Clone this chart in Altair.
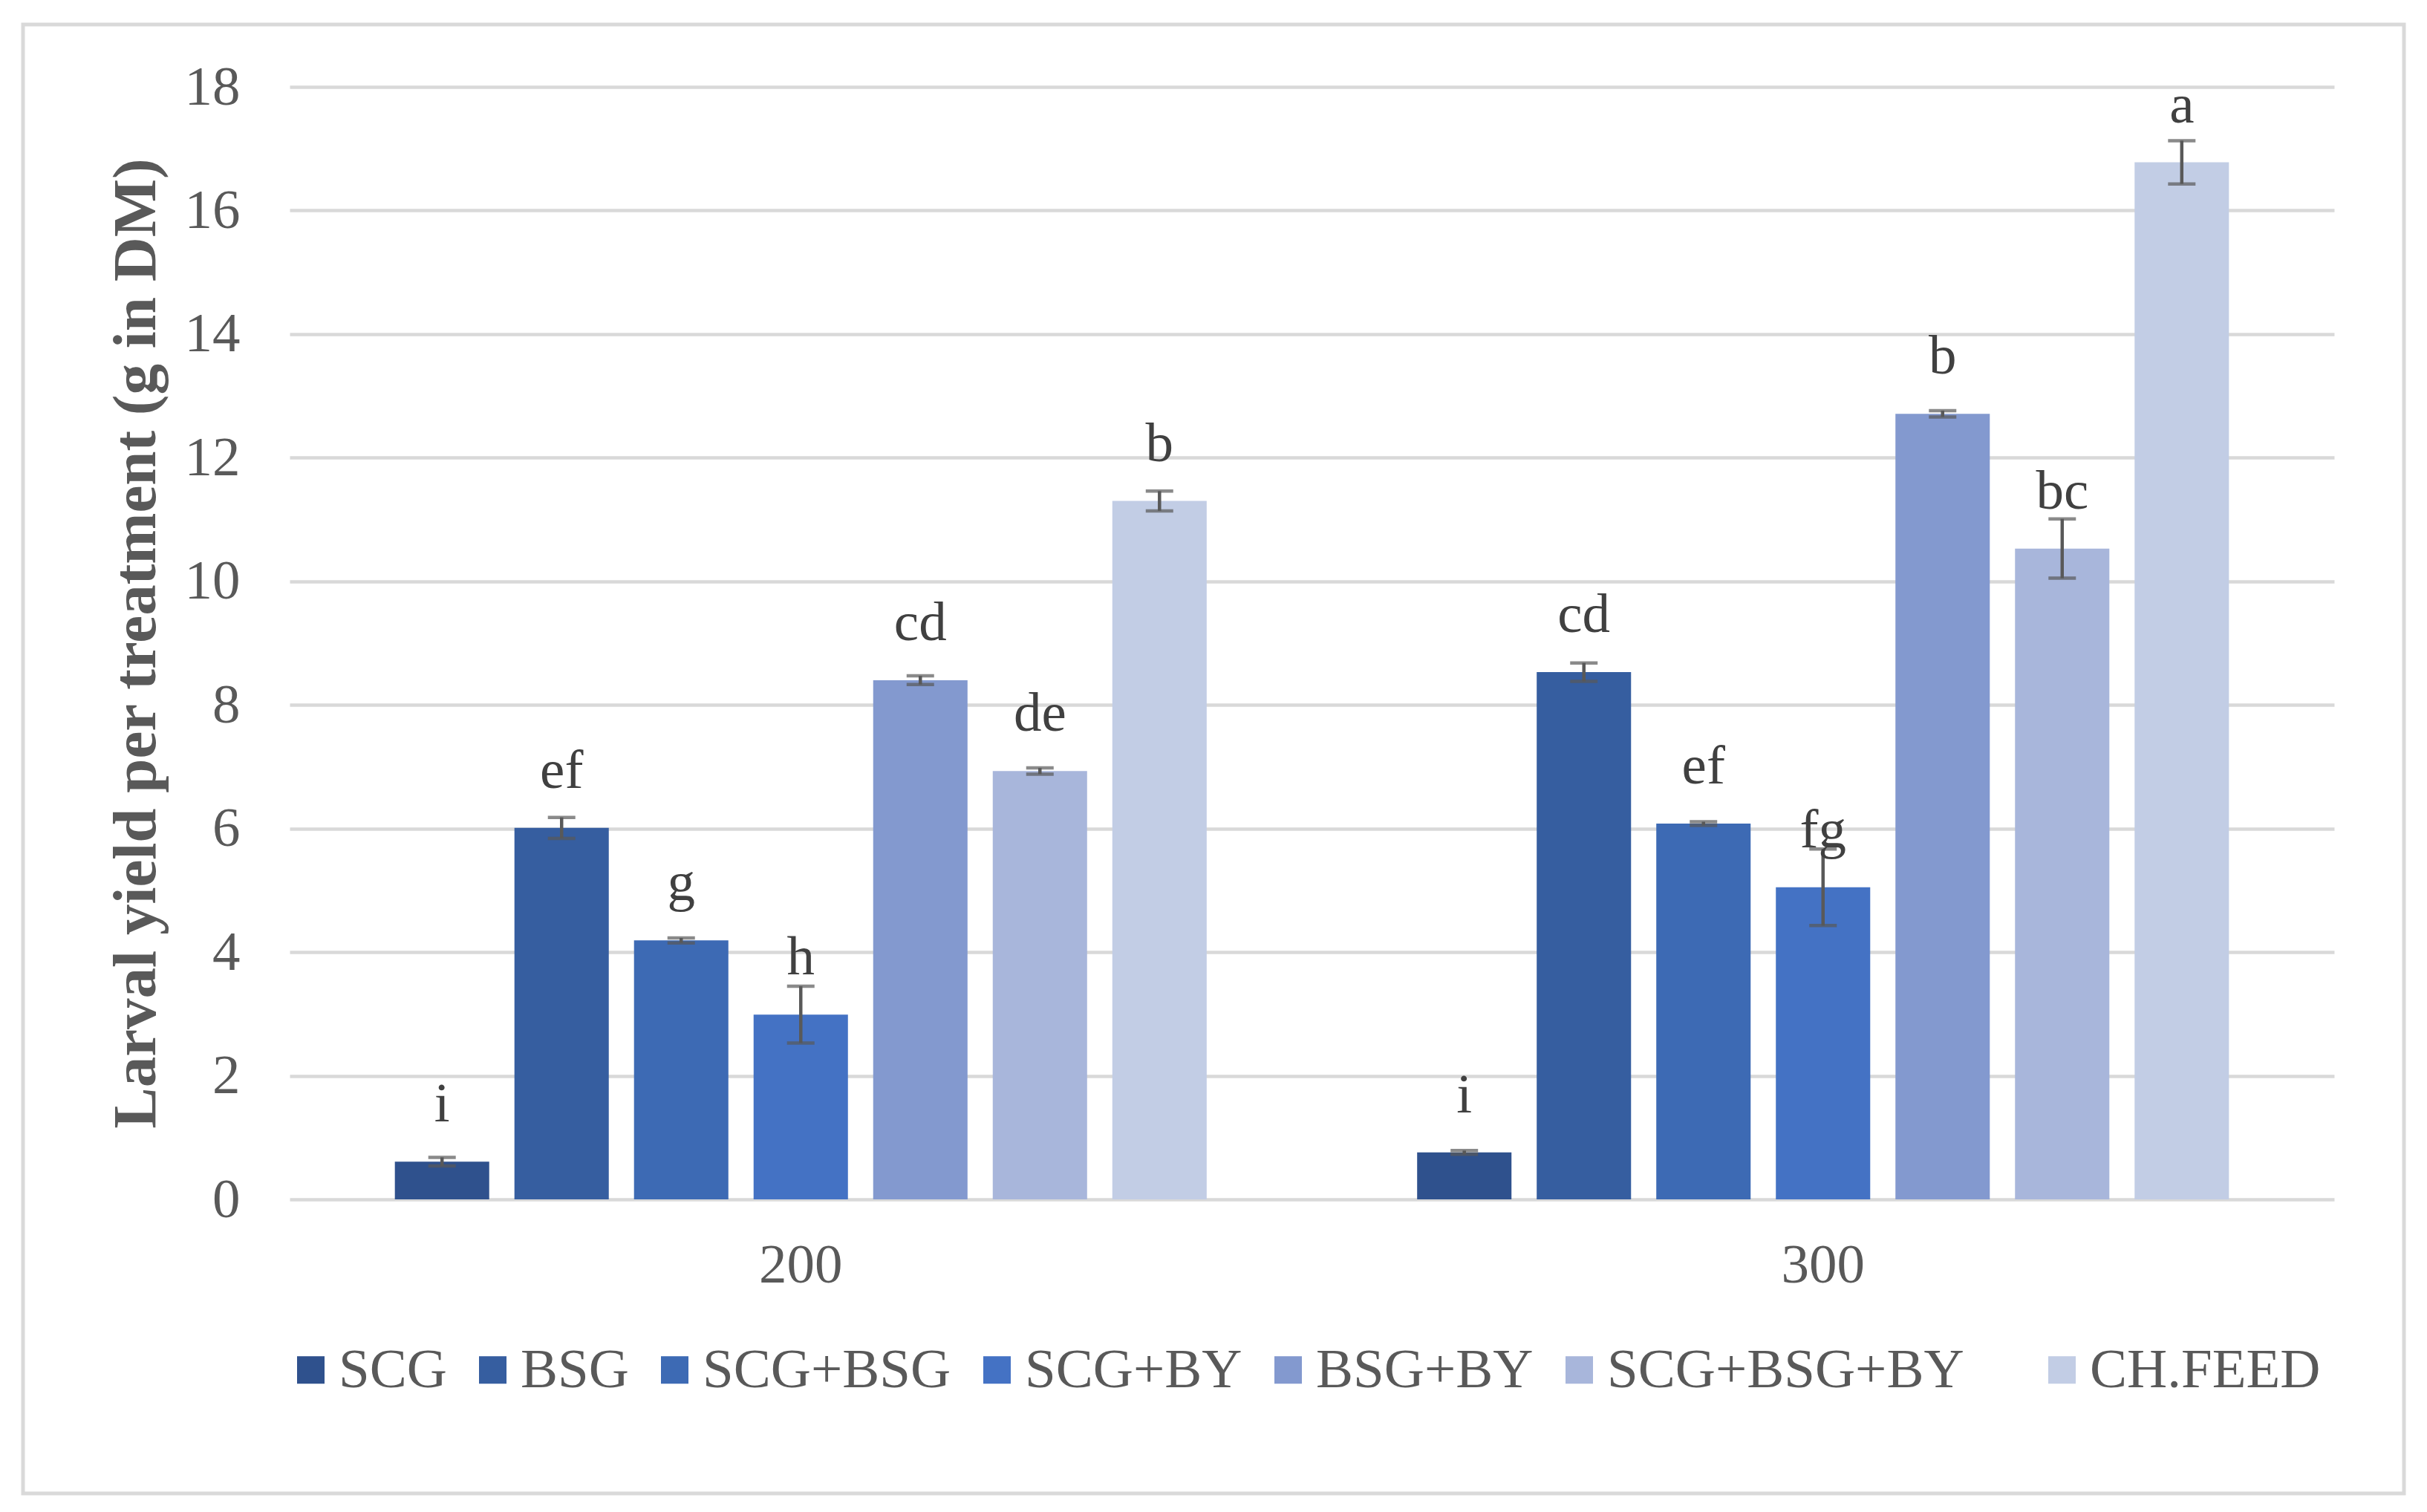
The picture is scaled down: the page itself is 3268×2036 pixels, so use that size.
import altair as alt
import pandas as pd

densities = ["200", "300"]
treatments = ["SCG", "BSG", "SCG+BSG", "SCG+BY", "BSG+BY", "SCG+BSG+BY", "CH.FEED"]
colors = ["#2F518D", "#365EA0", "#3D6AB4", "#4472C4", "#8399CF", "#A8B6DB", "#C2CDE5"]

mean_200 = [0.61, 6.01, 4.19, 2.99, 8.40, 6.93, 11.30]
mean_300 = [0.76, 8.53, 6.08, 5.05, 12.71, 10.53, 16.78]
err_200 = [0.07, 0.17, 0.04, 0.46, 0.07, 0.05, 0.16]
err_300 = [0.03, 0.15, 0.03, 0.62, 0.05, 0.48, 0.35]
letters_200 = ["i", "ef", "g", "h", "cd", "de", "b"]
letters_300 = ["i", "cd", "ef", "fg", "b", "bc", "a"]
y_ticks = [0, 2, 4, 6, 8, 10, 12, 14, 16, 18]

rows = []
for d, means, errs, lets in [("200", mean_200, err_200, letters_200),
                             ("300", mean_300, err_300, letters_300)]:
    for t, m, e, l in zip(treatments, means, errs, lets):
        rows.append({"density": d, "treatment": t, "mean": m,
                     "lo": m - e, "hi": m + e, "letter": l})
df = pd.DataFrame(rows)

FONT = "Liberation Serif"
W, H = 2753, 1498

x_enc = alt.X("density:N", sort=densities,
              scale=alt.Scale(paddingInner=0, paddingOuter=0),
              axis=alt.Axis(title=None, labelAngle=0, domain=False, ticks=False,
                            labelPadding=52, labelFontSize=75, labelFont=FONT,
                            labelColor="#595959", grid=False))
xo_enc = alt.XOffset("treatment:N", sort=treatments,
                     scale=alt.Scale(domain=treatments, paddingInner=0.211, paddingOuter=0.88))

base = alt.Chart(df)

bars = base.mark_bar().encode(
    x=x_enc,
    xOffset=xo_enc,
    y=alt.Y("mean:Q",
            scale=alt.Scale(domain=[0, 18], nice=False),
            axis=alt.Axis(values=y_ticks, format="d",
                          title="Larval yield per treatment (g in DM)",
                          domain=False, ticks=False, grid=True, gridColor="#D9D9D9",
                          gridWidth=4.5, labelPadding=67, labelFontSize=75,
                          labelFont=FONT, labelColor="#595959",
                          titleFont=FONT, titleFontSize=83, titleFontWeight="bold",
                          titleColor="#595959", titleAngle=-90, titleX=-182, titleY=H / 2,
                          titleAlign="center", titleBaseline="alphabetic")),
    color=alt.Color("treatment:N", sort=treatments,
                    scale=alt.Scale(domain=treatments, range=colors),
                    legend=alt.Legend(
                        title=None,
                        labelExpr="datum.label == 'SCG+BSG+BY' ? datum.label + '\u2009\u2800' : datum.label")),
)

err_rule = base.mark_rule(color="#595959", strokeWidth=4.5).encode(
    x=alt.X("density:N", sort=densities),
    xOffset=alt.XOffset("treatment:N", sort=treatments),
    y="lo:Q", y2="hi:Q",
)
cap_lo = base.mark_tick(color="#595959", size=37, thickness=4.5).encode(
    x=alt.X("density:N", sort=densities),
    xOffset=alt.XOffset("treatment:N", sort=treatments),
    y="lo:Q",
)
cap_hi = base.mark_tick(color="#595959", size=37, thickness=4.5).encode(
    x=alt.X("density:N", sort=densities),
    xOffset=alt.XOffset("treatment:N", sort=treatments),
    y="hi:Q",
)
labels = base.mark_text(font=FONT, fontSize=75, color="#404040",
                        baseline="alphabetic", dy=-54).encode(
    x=alt.X("density:N", sort=densities),
    xOffset=alt.XOffset("treatment:N", sort=treatments),
    y="mean:Q",
    text="letter:N",
)

frame = alt.Chart(pd.DataFrame({"f": [0]})).mark_rect(
    fillOpacity=0, stroke="#D9D9D9", strokeWidth=5).encode(
    x=alt.value(-359), x2=alt.value(2847), y=alt.value(-84), y2=alt.value(1894))

chart = alt.layer(frame, bars, err_rule, cap_lo, cap_hi, labels).properties(
    width=W, height=H,
    autosize=alt.AutoSizeParams(type="none"),
    padding={"left": 382, "top": 109, "right": 107, "bottom": 415},
    background="white",
).configure_view(stroke=None).configure_legend(
    orient="none", legendX=-9, legendY=1690, direction="horizontal", columns=7,
    symbolType="square", symbolSize=1369, symbolStrokeWidth=0,
    labelFont=FONT, labelFontSize=75, labelColor="#595959",
    labelOffset=0, columnPadding=24, labelLimit=0,
)

chart.save("out.html", embed_options={"renderer": "svg", "actions": False})
